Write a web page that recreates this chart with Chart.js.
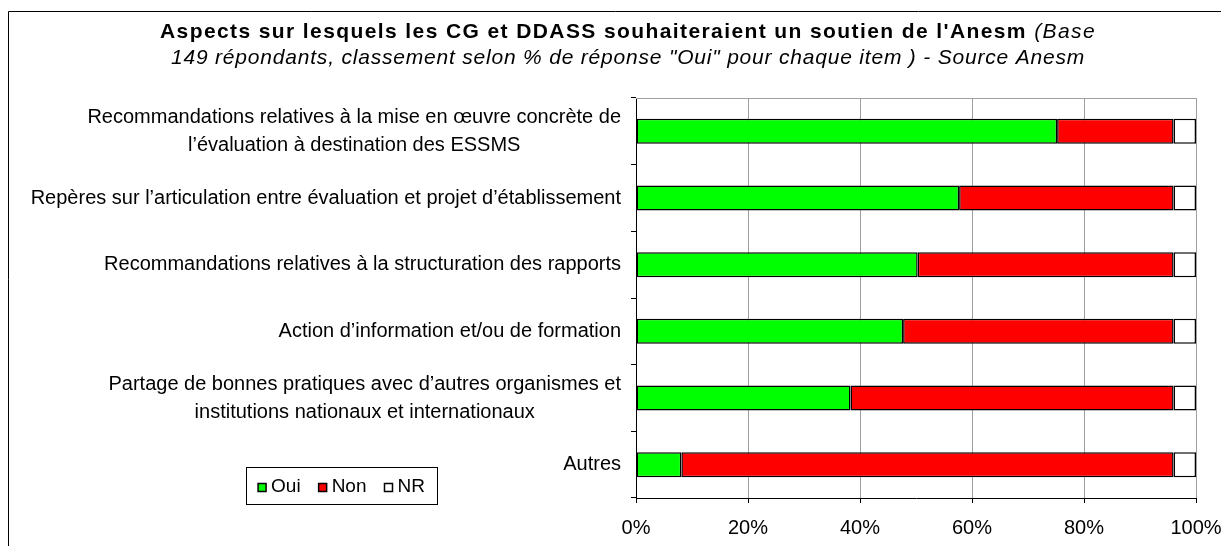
<!DOCTYPE html>
<html lang="fr">
<head>
	<title>Aspects sur lesquels les CG et DDASS souhaiteraient un soutien de l'Anesm</title>
	<meta charset="utf-8">
	<script src="https://cdn.jsdelivr.net/npm/chart.js@4.4.1/dist/chart.umd.min.js"></script>
	<style type="text/css">
		html, body { margin: 0; padding: 0; background: #fff; }
		canvas { display: block; }
	</style>
</head>
<body>
<canvas id="anesm-canvas" width="1221" height="546"></canvas>
<script type="text/javascript">
	// libellés des items (une ligne par élément)
	var categories = [
		["Recommandations relatives à la mise en œuvre concrète de", "l’évaluation à destination des ESSMS"],
		["Repères sur l’articulation entre évaluation et projet d’établissement"],
		["Recommandations relatives à la structuration des rapports"],
		["Action d’information et/ou de formation"],
		["Partage de bonnes pratiques avec d’autres organismes et", "institutions nationaux et internationaux"],
		["Autres"]
	];
	// % de réponses
	var oui = [75.2, 57.7, 50.3, 47.7, 38.3, 8.1];
	var non = [20.8, 38.3, 45.7, 48.3, 57.7, 87.9];
	var nr  = [4.0, 4.0, 4.0, 4.0, 4.0, 4.0];
	var xTicks = [0, 20, 40, 60, 80, 100];

	var titleLine1 = "Aspects sur lesquels les CG et DDASS souhaiteraient un soutien de l'Anesm";
	var titleLine1b = " (Base";
	var titleLine2 = "149 répondants, classement selon % de réponse \"Oui\" pour chaque item ) - Source Anesm";

	var FONT = "'Liberation Sans', Arial, sans-serif";

	// cadre, titre, libellés et légende dessinés à la main
	var decorPlugin = {
		id: "decor",
		afterDraw: function(chart) {
			var ctx = chart.ctx;
			var area = chart.chartArea;
			ctx.save();

			// cadre extérieur
			ctx.strokeStyle = "#000";
			ctx.lineWidth = 1;
			ctx.beginPath();
			ctx.moveTo(8.5, 600);
			ctx.lineTo(8.5, 11.5);
			ctx.lineTo(1300, 11.5);
			ctx.stroke();

			// bord haut de la zone de traçage
			ctx.strokeStyle = "#a0a0a0";
			ctx.beginPath();
			ctx.moveTo(area.left, area.top + 0.5);
			ctx.lineTo(area.right, area.top + 0.5);
			ctx.stroke();

			// titre
			ctx.fillStyle = "#000";
			ctx.textBaseline = "alphabetic";
			ctx.textAlign = "left";
			var cx = 628;
			ctx.letterSpacing = "1.4px";
			ctx.font = "bold 21px " + FONT;
			var w1 = ctx.measureText(titleLine1).width;
			ctx.font = "italic 21px " + FONT;
			var w1b = ctx.measureText(titleLine1b).width;
			var x0 = cx - (w1 + w1b) / 2;
			ctx.font = "bold 21px " + FONT;
			ctx.fillText(titleLine1, x0, 38);
			ctx.font = "italic 21px " + FONT;
			ctx.fillText(titleLine1b, x0 + w1, 38);
			ctx.letterSpacing = "0.8px";
			var w2 = ctx.measureText(titleLine2).width;
			ctx.fillText(titleLine2, cx - w2 / 2, 64);
			ctx.letterSpacing = "0px";

			// libellés de l'axe vertical (bloc aligné à droite, lignes centrées)
			var yScale = chart.scales.y;
			ctx.font = "20px " + FONT;
			ctx.textBaseline = "middle";
			ctx.textAlign = "center";
			var right = 621;
			var lineH = 28;
			for (var i = 0; i < categories.length; i++) {
				var lines = categories[i];
				var yc = yScale.getPixelForValue(i);
				var maxW = 0;
				for (var j = 0; j < lines.length; j++) {
					maxW = Math.max(maxW, ctx.measureText(lines[j]).width);
				}
				var mid = right - maxW / 2;
				for (var k = 0; k < lines.length; k++) {
					var ly = yc + (k - (lines.length - 1) / 2) * lineH;
					ctx.fillText(lines[k], mid, ly);
				}
			}

			// légende
			var boxX = 246, boxY = 467, boxW = 191, boxH = 37;
			ctx.strokeStyle = "#000";
			ctx.lineWidth = 1;
			ctx.strokeRect(boxX + 0.5, boxY + 0.5, boxW, boxH);
			ctx.font = "19px " + FONT;
			ctx.textAlign = "left";
			var items = chart.data.datasets;
			var total = 0;
			var sq = 8, gapIn = 5, gapOut = 18;
			for (var m = 0; m < items.length; m++) {
				total += sq + gapIn + ctx.measureText(items[m].label).width;
				if (m < items.length - 1) total += gapOut;
			}
			var lx = boxX + (boxW - total) / 2;
			var lyc = boxY + boxH / 2 + 1;
			for (var n = 0; n < items.length; n++) {
				ctx.fillStyle = items[n].backgroundColor;
				ctx.fillRect(lx, lyc - sq / 2 + 1, sq, sq);
				ctx.strokeStyle = "#000";
				ctx.lineWidth = 1.5;
				ctx.strokeRect(lx, lyc - sq / 2 + 1, sq, sq);
				lx += sq + gapIn;
				ctx.fillStyle = "#000";
				ctx.fillText(items[n].label, lx, lyc);
				lx += ctx.measureText(items[n].label).width + gapOut;
			}
			ctx.restore();
		}
	};

	var ctx = document.querySelector("#anesm-canvas").getContext("2d");
	var anesmChart = new Chart(ctx, {
		type: "bar",
		data: {
			labels: categories,
			datasets: [{
				label: "Oui",
				data: oui,
				backgroundColor: "#00ff00",
				borderColor: "#000",
				borderWidth: 1.5,
				borderSkipped: false
			}, {
				label: "Non",
				data: non,
				backgroundColor: "#ff0000",
				borderColor: "#000",
				borderWidth: 1.5,
				borderSkipped: false
			}, {
				label: "NR",
				data: nr,
				backgroundColor: "#ffffff",
				borderColor: "#000",
				borderWidth: 1.5,
				borderSkipped: false
			}]
		},
		options: {
			indexAxis: "y",
			responsive: false,
			animation: false,
			layout: {
				padding: { top: 98, right: 25, bottom: 0, left: 0 }
			},
			plugins: {
				legend: { display: false },
				title: { display: false },
				tooltip: { enabled: false }
			},
			datasets: {
				bar: { categoryPercentage: 1, barPercentage: 0.375 }
			},
			scales: {
				x: {
					stacked: true,
					min: 0,
					max: 100,
					afterBuildTicks: function(scale) {
						scale.ticks = xTicks.map(function(v) { return { value: v }; });
					},
					ticks: {
						callback: function(v) { return v + "%"; },
						color: "#000",
						font: { family: FONT, size: 20 },
						padding: 13,
						maxRotation: 0
					},
					grid: {
						color: "#a0a0a0",
						tickColor: "#000",
						tickLength: 5
					},
					border: { color: "#000", width: 1 },
					afterFit: function(scale) {
						scale.height = 48;
						scale.paddingLeft = 0;
						scale.paddingRight = 0;
					}
				},
				y: {
					stacked: true,
					ticks: { display: false },
					grid: {
						drawOnChartArea: false,
						offset: true,
						tickColor: "#000",
						tickLength: 5
					},
					border: { color: "#000", width: 1 },
					afterFit: function(scale) { scale.width = 636; }
				}
			}
		},
		plugins: [decorPlugin]
	});
</script>
</body>
</html>
